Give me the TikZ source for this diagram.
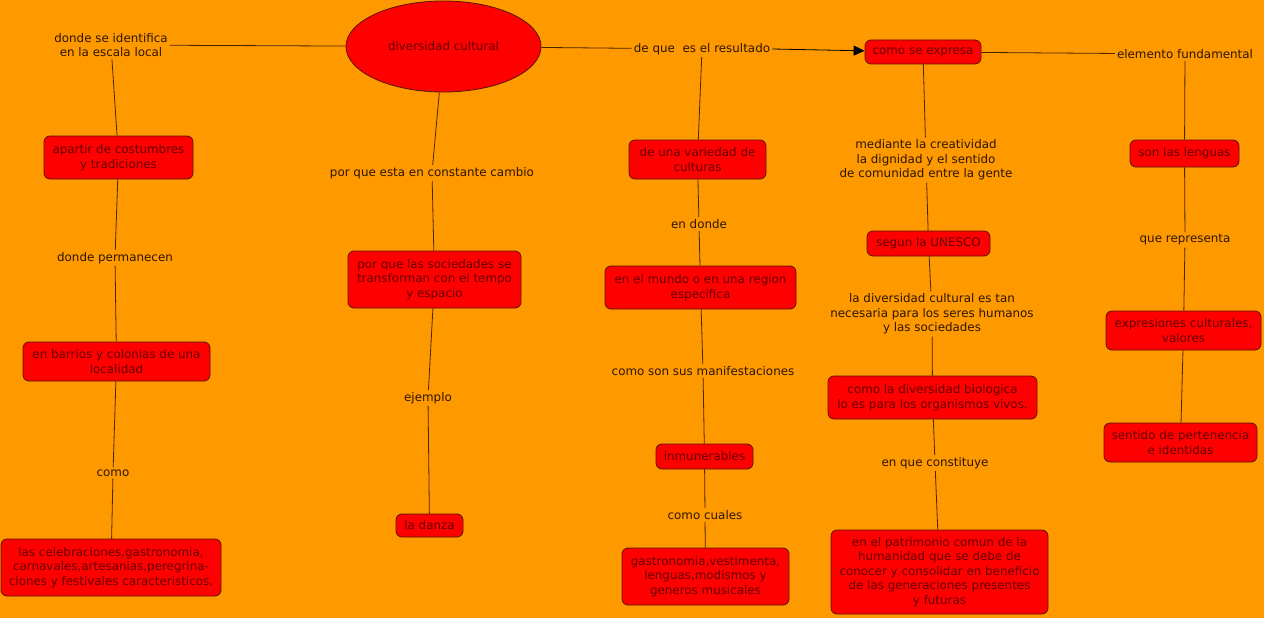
\documentclass[tikz,border=0pt]{standalone}
\usepackage{fontspec}
\setmainfont{DejaVu Sans}
\usetikzlibrary{shapes.geometric,arrows.meta}
\definecolor{bg}{RGB}{255,153,0}
\definecolor{boxred}{RGB}{255,0,0}
\definecolor{boxline}{RGB}{90,20,0}
\definecolor{boxtext}{RGB}{100,0,0}
\definecolor{lbltext}{RGB}{45,22,0}
\definecolor{linecol}{RGB}{75,38,0}
\begin{document}
\begin{tikzpicture}[x=1pt,y=-1pt,
  font=\fontsize{11.9}{14.6}\selectfont,
  box/.style={draw=boxline,fill=boxred,rounded corners=6pt,text=boxtext,align=center,inner sep=0pt,line width=0.8pt},
  sz/.style 2 args={minimum width=#1,minimum height=#2},
  lbl/.style={text=lbltext,align=center,inner sep=2pt},
  conn/.style={draw=linecol,line width=0.8pt},
  arr/.style={conn,-{Triangle[length=11pt,width=10pt]},draw=black}]
\fill[bg] (0,0) rectangle (1264,618);
\useasboundingbox (0,0) rectangle (1264,618);

% central
\node[ellipse,draw=boxline,fill=boxred,text=boxtext,line width=0.8pt,minimum width=195,minimum height=91,inner sep=0pt] (ell) at (443.5,46.5) {diversidad cultural};

% left column
\node[lbl] (l1) at (111,45) {donde se identifica\\ en la escala local};
\node[box,sz={149}{43}] (b1) at (118.5,157.5) {apartir de costumbres\\y tradiciones};
\node[lbl] (l2) at (115,258) {donde permanecen};
\node[box,sz={187}{39}] (b2) at (116.5,361.5) {en barrios y colonias de una\\localidad};
\node[lbl] (l3) at (113,473) {como};
\node[box,sz={220}{57}] (b3) at (111,567.5) {las celebraciones,gastronomia,\\carnavales,artesanias,peregrina-\\ciones y festivales caracteristicos.};

% second column
\node[lbl] (l4) at (432,173) {por que esta en constante cambio};
\node[box,sz={173}{57}] (b4) at (434.5,279.5) {por que las sociedades se\\transforman con el tempo\\y espacio};
\node[lbl] (l5) at (428,398) {ejemplo};
\node[box,sz={67}{23}] (b5) at (429.5,525.5) {la danza};

% third column
\node[lbl] (l6) at (702,49) {de que\ \ es el resultado};
\node[box,sz={116}{24}] (b6) at (923,52) {como se expresa};
\node[box,sz={137}{39}] (b7) at (697.5,159.5) {de una variedad de\\culturas};
\node[lbl] (l7) at (699,224) {en donde};
\node[box,sz={191}{43}] (b8) at (700.5,287.5) {en el mundo o en una region\\especifica};
\node[lbl] (l8) at (703,371) {como son sus manifestaciones};
\node[box,sz={97}{25}] (b9) at (704.5,456.5) {inmunerables};
\node[lbl] (l9) at (705,515) {como cuales};
\node[box,sz={167}{57}] (b10) at (705.5,576.5) {gastronomia,vestimenta,\\lenguas,modismos y\\generos musicales};

% fourth column
\node[lbl] (l10) at (926,160) {mediante la creatividad\\la dignidad y el sentido\\de comunidad entre la gente};
\node[box,sz={123}{25}] (b11) at (928.5,243.5) {segun la UNESCO};
\node[lbl] (l11) at (932,314) {la diversidad cultural es tan\\necesaria para los seres humanos\\y las sociedades};
\node[box,sz={209}{43}] (b12) at (932.5,397.5) {como la diversidad biologica\\lo es para los organismos vivos.};
\node[lbl] (l12) at (935,463) {en que constituye};
\node[box,sz={217}{84}] (b13) at (939.5,572) {en el patrimonio comun de la\\humanidad que se debe de\\conocer y consolidar en beneficio\\de las generaciones presentes\\y futuras};

% fifth column
\node[lbl] (l13) at (1185,54) {elemento fundamental};
\node[box,sz={109}{27}] (b14) at (1184.5,153.5) {son las lenguas};
\node[lbl] (l14) at (1185,240) {que representa};
\node[box,sz={155}{39}] (b15) at (1183.5,330.5) {expresiones culturales,\\valores};
\node[box,sz={153}{39}] (b16) at (1180.5,442.5) {sentido de pertenencia\\e identidas};

% connectors
\draw[conn] (ell) -- (l1);
\draw[conn] (l1) -- (b1);
\draw[conn] (b1) -- (l2);
\draw[conn] (l2) -- (b2);
\draw[conn] (b2) -- (l3);
\draw[conn] (l3) -- (b3);

\draw[conn] (ell) -- (l4);
\draw[conn] (l4) -- (b4);
\draw[conn] (b4) -- (l5);
\draw[conn] (l5) -- (b5);

\draw[conn] (ell) -- (l6);
\draw[arr] (l6.east) -- (b6);
\draw[conn] (l6) -- (b7);
\draw[conn] (b7) -- (l7);
\draw[conn] (l7) -- (b8);
\draw[conn] (b8) -- (l8);
\draw[conn] (l8) -- (b9);
\draw[conn] (b9) -- (l9);
\draw[conn] (l9) -- (b10);

\draw[conn] (b6) -- (l10);
\draw[conn] (l10) -- (b11);
\draw[conn] (b11) -- (l11);
\draw[conn] (l11) -- (b12);
\draw[conn] (b12) -- (l12);
\draw[conn] (l12) -- (b13);

\draw[conn] (b6) -- (l13);
\draw[conn] (l13) -- (b14);
\draw[conn] (b14) -- (l14);
\draw[conn] (l14) -- (b15);
\draw[conn] (b15) -- (b16);
\end{tikzpicture}
\end{document}
